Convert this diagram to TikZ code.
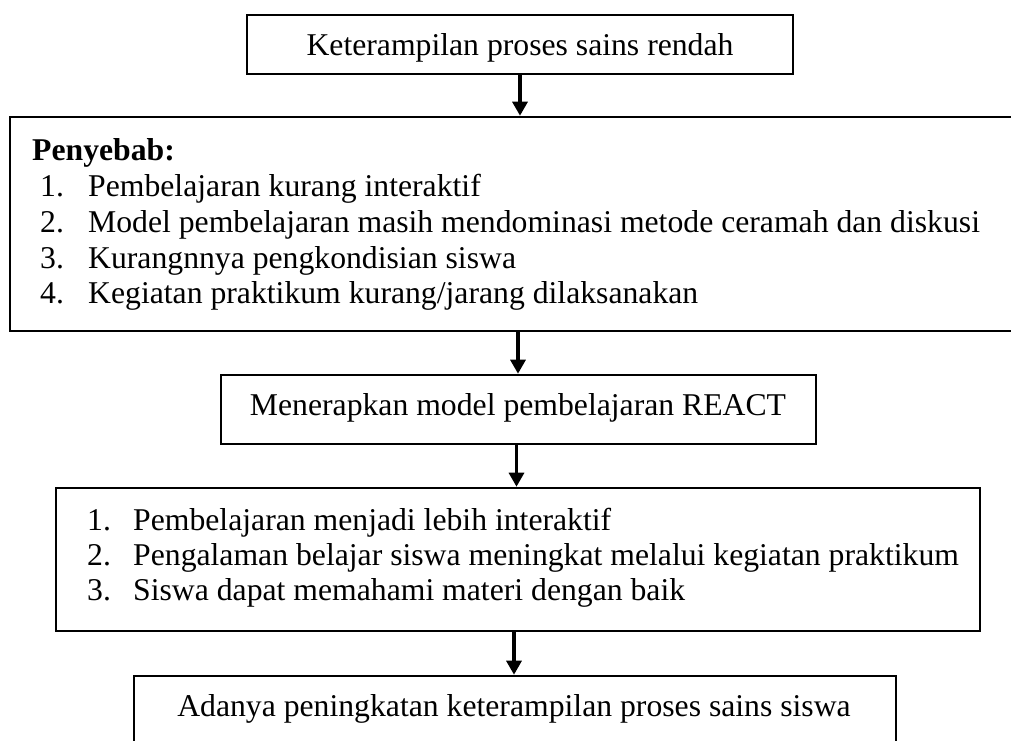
\documentclass[tikz,border=0pt]{standalone}
\usepackage{fontspec}
\setmainfont{Liberation Serif}
\usepackage{tikz}
\usetikzlibrary{arrows.meta, positioning, calc}
\tikzset{
	flowbox/.style={draw, line width=2.6pt, inner sep=0pt}
}
\tikzset{
	boxtext/.style={font=\fontsize{31.7}{36}\selectfont, inner sep=0pt, anchor=base}
}
\tikzset{
	listtext/.style={font=\fontsize{31.7}{36}\selectfont, inner sep=0pt, anchor=base west}
}
\tikzset{
	downarrow/.style={line width=3.2pt, -{Triangle[length=14pt,width=15pt]}}
}

\begin{document}
\begin{tikzpicture}[x=1pt, y=-1pt]

			\useasboundingbox (0,0) rectangle (1011,740);

			\begin{scope}
				\node[flowbox, minimum width=546pt, minimum height=59pt] (masalah) at (520,44.5) {};
				\node[flowbox, minimum width=1006pt, minimum height=214pt] (penyebab) at (513,224) {};
				\node[flowbox, minimum width=595pt, minimum height=69pt] (react) at (518.5,409.5) {};
				\node[flowbox, minimum width=924pt, minimum height=143pt] (hasil) at (518,559.5) {};
				\node[flowbox, minimum width=762pt, minimum height=94pt] (tujuan) at (515,723) {};
			\end{scope}

			\begin{scope}
				\draw[downarrow] (masalah.south) -- (masalah.south |- penyebab.north);
				\draw[downarrow] ([xshift=5pt]penyebab.south) -- ([xshift=5pt]penyebab.south |- react.north);
				\draw[downarrow] ([xshift=-2pt]react.south) -- ([xshift=-2pt]react.south |- hasil.north);
				\draw[downarrow] ([xshift=-4pt]hasil.south) -- ([xshift=-4pt]hasil.south |- tujuan.north);
			\end{scope}

			\node[boxtext] (tmasalah) at (520,55) {Keterampilan proses sains rendah};

			\begin{scope}
				\node[listtext] (judul) at (32,160) {\textbf{Penyebab:}};
				\node[listtext] (n1) at (40,196) {1.};
				\node[listtext] (n2) at (40,232) {2.};
				\node[listtext] (n3) at (40,268) {3.};
				\node[listtext] (n4) at (40,303) {4.};
				\node[listtext] (p1) at (88,196) {Pembelajaran kurang interaktif};
				\node[listtext] (p2) at (88,232) {Model pembelajaran masih mendominasi metode ceramah dan diskusi};
				\node[listtext] (p3) at (88,268) {Kurangnnya pengkondisian siswa};
				\node[listtext] (p4) at (88,303) {Kegiatan praktikum kurang/jarang dilaksanakan};
			\end{scope}

			\node[boxtext] (treact) at (518,415) {Menerapkan model pembelajaran REACT};

			\begin{scope}
				\node[listtext] (m1) at (87,530) {1.};
				\node[listtext] (m2) at (87,565) {2.};
				\node[listtext] (m3) at (87,600) {3.};
				\node[listtext] (h1) at (133,530) {Pembelajaran menjadi lebih interaktif};
				\node[listtext] (h2) at (133,565) {Pengalaman belajar siswa meningkat melalui kegiatan praktikum};
				\node[listtext] (h3) at (133,600) {Siswa dapat memahami materi dengan baik};
			\end{scope}

			\node[boxtext] (ttujuan) at (514,716) {Adanya peningkatan keterampilan proses sains siswa};

		\end{tikzpicture}
\end{document}
